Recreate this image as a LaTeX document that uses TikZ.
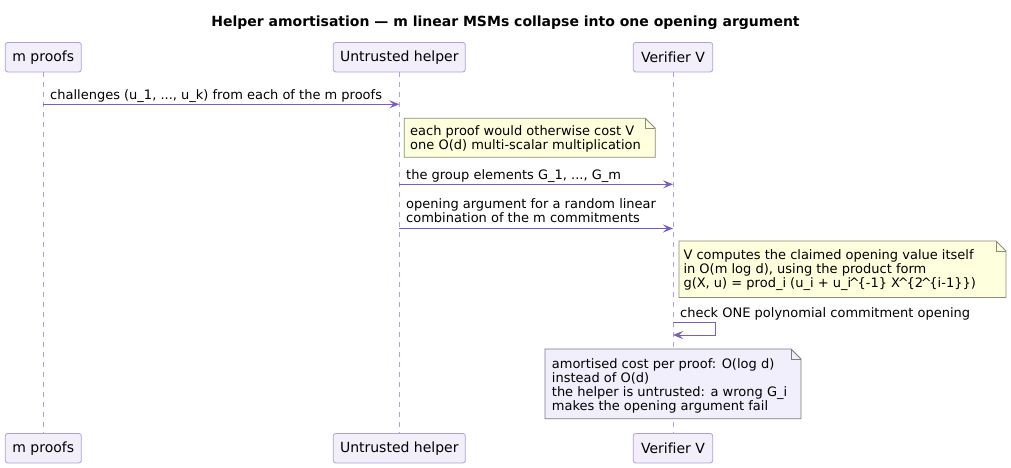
\documentclass[tikz,border=0pt]{standalone}
\usepackage{fontspec}
\setmainfont{DejaVu Sans}[Ligatures={NoCommon}]
\usetikzlibrary{arrows.meta}
\definecolor{partfill}{HTML}{F2EFFB}
\definecolor{partdraw}{HTML}{B09FD9}
\definecolor{lifecol}{HTML}{B0A0DC}
\definecolor{arrowcol}{HTML}{7B5CBF}
\definecolor{noteyfill}{HTML}{FEFFDD}
\definecolor{noteydraw}{HTML}{8C8C7C}
\definecolor{notepfill}{HTML}{F1EFFB}
\definecolor{notepdraw}{HTML}{7C7C7C}
\tikzset{
  x=1pt, y=-1pt,
  part/.style={draw=partdraw, fill=partfill, line width=0.8pt, rounded corners=2.5pt,
    minimum height=29.5pt, inner sep=0pt, font=\fontsize{14}{16}\selectfont},
  lifeline/.style={draw=lifecol, line width=0.8pt, dash pattern=on 5pt off 5pt},
  msg/.style={draw=arrowcol, line width=1pt,
    -{Stealth[length=10pt,width=8pt,inset=4pt]}},
  msgtext/.style={anchor=base west, inner sep=0pt, font=\fontsize{13}{14}\selectfont},
  notey/.style={fill=noteyfill, draw=noteydraw, line width=0.8pt},
  notep/.style={fill=notepfill, draw=notepdraw, line width=0.8pt},
}
\newcommand{\notebox}[5]{% style, x1, y1, x2, y2
  \path[#1] (#2,#3) -- (#4-10,#3) -- (#4,#3+10) -- (#4,#5) -- (#2,#5) -- cycle;
  \draw[#1, fill=none] (#4-10,#3) -- (#4-10,#3+10) -- (#4,#3+10);
}
\newcommand{\lines}[1]{\begin{tabular}[t]{@{}l@{}}#1\end{tabular}}
\newcommand{\crt}{\makebox[6.4pt][c]{\textasciicircum}}
\begin{document}
\begin{tikzpicture}
\useasboundingbox (0,0) rectangle (1011,468);
\fill[white] (0,0) rectangle (1011,468);

% title
\node[anchor=base, inner sep=0pt, font=\bfseries\fontsize{14}{16}\selectfont] (title) at (505.5,27)
  {Helper amortisation — m linear MSMs collapse into one opening argument};

% participants
\node[part, minimum width=76pt] (p) at (43.3,57.2) {m proofs};
\node[part, minimum width=132pt] (h) at (399.3,57.2) {Untrusted helper};
\node[part, minimum width=79.4pt] (v) at (673,57.2) {Verifier V};
\node[part, minimum width=76pt] (pb) at (43.3,448.2) {m proofs};
\node[part, minimum width=132pt] (hb) at (399.3,448.2) {Untrusted helper};
\node[part, minimum width=79.4pt] (vb) at (673,448.2) {Verifier V};

% lifelines
\draw[lifeline] (p.south) -- (pb.north);
\draw[lifeline] (h.south) -- (hb.north);
\draw[lifeline] (v.south) -- (vb.north);

% anchor points on lifelines
\coordinate (p1) at (p.south |- 0,104.3);
\coordinate (h1) at (h.south |- 0,104.3);
\coordinate (h2) at (h.south |- 0,184.3);
\coordinate (v2) at (v.south |- 0,184.3);
\coordinate (h3) at (h.south |- 0,228.5);
\coordinate (v3) at (v.south |- 0,228.5);
\coordinate (v4a) at (v.south |- 0,322.3);
\coordinate (v4b) at (v.south |- 0,335);

% message 1
\node[msgtext] (t1) at (50,100) {challenges (u\_1, ..., u\_k) from each of the m proofs};
\draw[msg] (p1) -- (h1);

% note 1
\notebox{notey}{404.3}{118.3}{655.3}{157.3}
\node[msgtext] (n1) at (410,135.5) {\lines{each proof would otherwise cost V\\ one O(d) multi-scalar multiplication}};

% message 2
\node[msgtext] (t2) at (406,179.5) {the group elements G\_1, ..., G\_m};
\draw[msg] (h2) -- (v2);

% message 3
\node[msgtext] (t3) at (406,208.5) {\lines{opening argument for a random linear\\ combination of the m commitments}};
\draw[msg] (h3) -- (v3);

% note 2
\notebox{notey}{679}{241}{1006}{297.5}
\node[msgtext] (n2) at (683.3,259.5) {\lines{V computes the claimed opening value itself\\ in O(m log d), using the product form\\ g(X, u) = prod\_i (u\_i + u\_i\crt\{-1\} X\crt\{2\crt\{i-1\}\})}};

% self message
\node[msgtext] (t4) at (680,317.8) {check ONE polynomial commitment opening};
\draw[msg] (v4a) -- ++(42.3,0) |- (v4b);

% note 3
\notebox{notep}{545}{349}{801}{418.7}
\node[msgtext] (n3) at (551.7,368.5) {\lines{amortised cost per proof: O(log d)\\ instead of O(d)\\ the helper is untrusted: a wrong G\_i\\ makes the opening argument fail}};
\end{tikzpicture}
\end{document}
